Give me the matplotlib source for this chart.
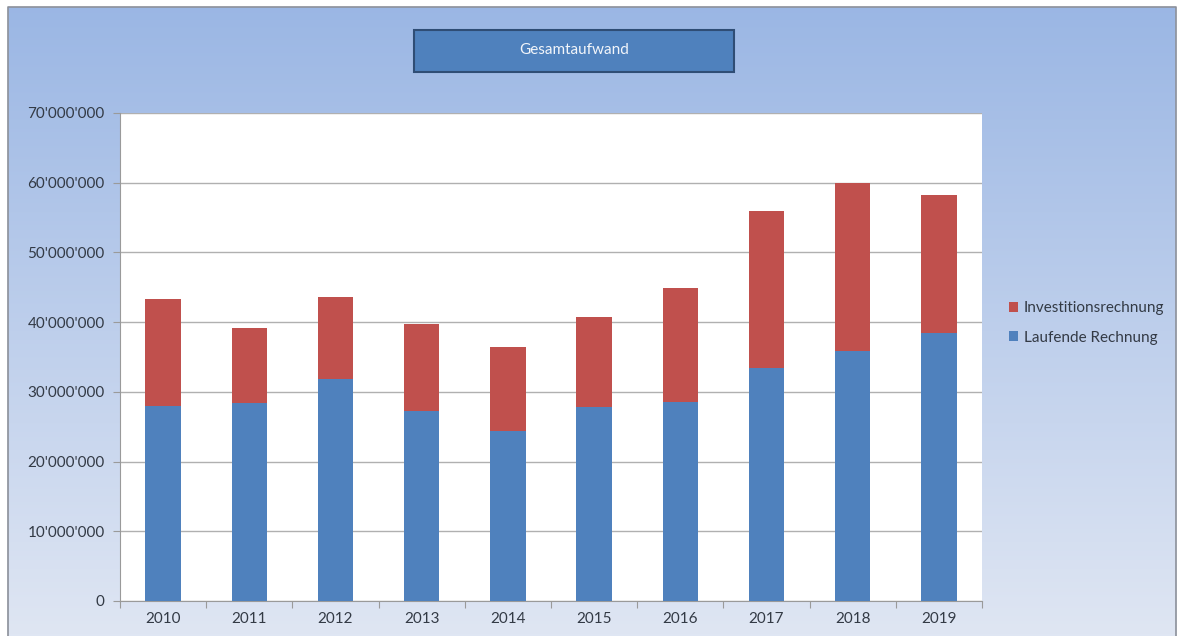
import matplotlib.pyplot as plt
import numpy as np
from matplotlib.patches import Rectangle
from matplotlib.ticker import FuncFormatter

years = ["2010", "2011", "2012", "2013", "2014", "2015", "2016", "2017", "2018", "2019"]
# total height of each stacked bar, and the blue (Laufende Rechnung) part
laufende = [28.0e6, 28.4e6, 31.9e6, 27.3e6, 24.4e6, 27.8e6, 28.5e6, 33.4e6, 35.9e6, 38.4e6]
gesamt = [43.3e6, 39.1e6, 43.6e6, 39.8e6, 36.4e6, 40.7e6, 44.9e6, 56.0e6, 60.0e6, 58.3e6]
investition = [g - l for g, l in zip(gesamt, laufende)]

blue = "#4F81BD"
red = "#C0504D"
textColor = "#333a45"
plt.rcParams["font.family"] = ["Lato", "DejaVu Sans"]

W, H = 1178, 636
fig = plt.figure(figsize=(W / 100, H / 100), dpi=100)

# background gradient over the whole chart area
bg = fig.add_axes([0, 0, 1, 1], zorder=-10)
grad = np.linspace(0, 1, 256).reshape(-1, 1)
top = np.array([0.604, 0.714, 0.894])
bottom = np.array([0.875, 0.902, 0.953])
img = top + (bottom - top) * grad[:, :, None]
bg.imshow(img, aspect="auto", extent=[0, W, H, 0])
bg.set_xlim(0, W)
bg.set_ylim(H, 0)
bg.axis("off")
bg.add_patch(Rectangle((0, 0), W, 6, color="white", zorder=2))
bg.add_patch(Rectangle((0, 0), 7, H, color="white", zorder=2))
bg.add_patch(Rectangle((1176, 0), 2, H, color="white", zorder=2))
bg.plot([7.5, 7.5, 1175.5, 1175.5], [H, 6.5, 6.5, H], color="#8a8f99", lw=1.2, zorder=3)

# title box
bg.add_patch(Rectangle((414, 30), 320, 42, facecolor=blue, edgecolor="#2f4d75", lw=1.5, zorder=3))
bg.text(574, 50, "Gesamtaufwand", color="#f2f5fa", fontsize=11, ha="center", va="center", zorder=4)

ax = fig.add_axes([120 / W, 35 / H, 862 / W, 488 / H])
ax.set_facecolor("white")
x = np.arange(len(years))
ax.bar(x, laufende, width=0.41, color=blue, zorder=3, label="Laufende Rechnung")
ax.bar(x, investition, width=0.41, bottom=laufende, color=red, zorder=3, label="Investitionsrechnung")

ax.set_xlim(-0.5, len(years) - 0.5)
ax.set_ylim(0, 70e6)
ax.set_yticks(np.arange(0, 70e6 + 1, 10e6))
ax.yaxis.set_major_formatter(FuncFormatter(lambda v, p: "0" if v == 0 else "{:,.0f}".format(v).replace(",", "'")))
ax.grid(axis="y", color="#b0b0b0", lw=1, zorder=0)
ax.set_xticks(np.arange(-0.5, len(years), 1))
ax.set_xticklabels([])
ax.set_xticks(x, minor=True)
ax.set_xticklabels(years, minor=True)
ax.tick_params(axis="x", which="major", length=5, color="#9a9a9a")
ax.tick_params(axis="x", which="minor", length=0, pad=8, labelsize=11, labelcolor=textColor)
ax.tick_params(axis="y", length=5, color="#9a9a9a", labelsize=11, labelcolor=textColor, pad=6)
for side in ["top", "right"]:
    ax.spines[side].set_visible(False)
ax.spines["left"].set_color("#9a9a9a")
ax.spines["bottom"].set_color("#9a9a9a")

handles, labels = ax.get_legend_handles_labels()
fig.legend(handles[::-1], labels[::-1], loc="center left", bbox_to_anchor=(995 / W, 1 - 323 / H),
           frameon=False, fontsize=11, labelcolor=textColor, handlelength=0.6, handleheight=0.6,
           handletextpad=0.4, labelspacing=1.0)

fig.savefig("out.png", dpi=100)
